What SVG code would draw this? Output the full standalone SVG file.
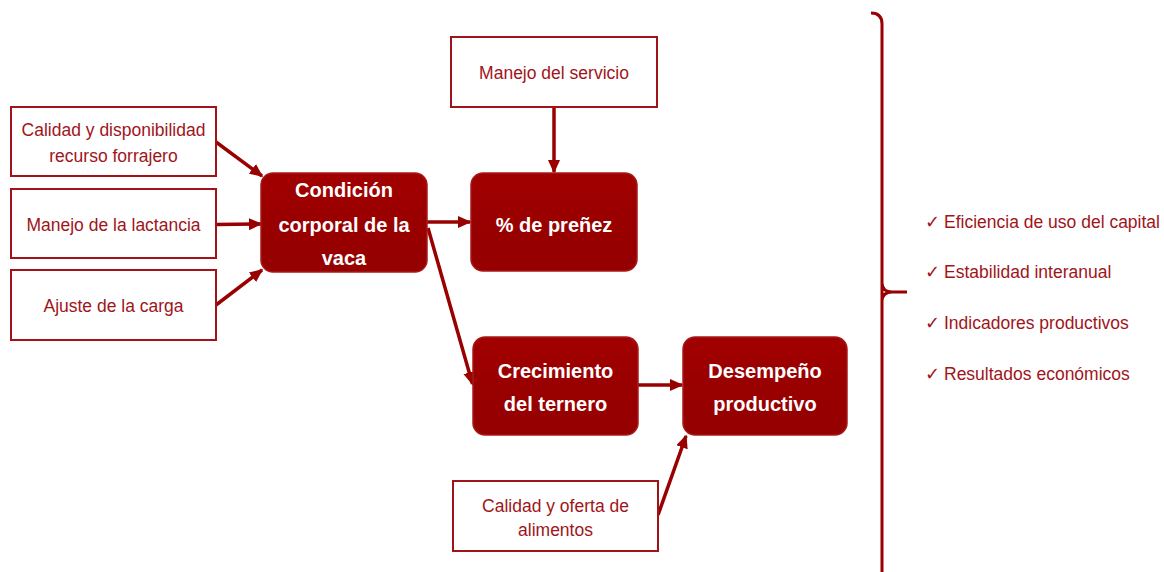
<svg xmlns="http://www.w3.org/2000/svg" width="1164" height="572" viewBox="0 0 1164 572">
<style>
.box{fill:#ffffff;stroke:#a01419;stroke-width:2}
.rbox{stroke:#a81a1a;stroke-width:1.5}
.t{font-family:"Liberation Sans",Arial,sans-serif;font-size:17.5px;fill:#a0141a;text-anchor:middle}
.b{font-family:"Liberation Sans",Arial,sans-serif;font-size:20px;font-weight:bold;fill:#ffffff;text-anchor:middle}
.l{font-family:"Liberation Sans",Arial,sans-serif;font-size:17.5px;fill:#a0141a}
.ck{font-family:"DejaVu Sans",sans-serif;font-size:18px;fill:#a0141a}
.c{stroke:#990000;stroke-width:3.5;fill:none;marker-end:url(#ah)}
</style>
<defs>
<marker id="ah" markerWidth="15" markerHeight="13" refX="12" refY="6.5" orient="auto" markerUnits="userSpaceOnUse">
<path d="M0,0.5 L13.5,6.5 L0,12.5 Z" fill="#990000"/>
</marker>
<linearGradient id="gl" x1="0" y1="0" x2="0" y2="1">
<stop offset="0" stop-color="#a20000"/>
<stop offset="0.5" stop-color="#990000"/>
<stop offset="1" stop-color="#960000"/>
</linearGradient>
</defs>
<rect width="1164" height="572" fill="#ffffff"/>

<g id="connectors">
<line class="c" x1="216" y1="142" x2="262" y2="176"/>
<line class="c" x1="216" y1="224.5" x2="261" y2="224"/>
<line class="c" x1="216" y1="305" x2="262" y2="270"/>
<line class="c" x1="427" y1="222" x2="470" y2="222"/>
<line class="c" x1="554" y1="107" x2="554" y2="172"/>
<line class="c" x1="428" y1="228" x2="472.5" y2="384"/>
<line class="c" x1="638" y1="385" x2="682" y2="385"/>
<line class="c" x1="658" y1="515" x2="686" y2="436"/>
</g>

<g id="n-calidad-forrajero">
<rect class="box" x="11" y="107" width="205" height="69"/>
<text class="t" x="113.5" y="136">Calidad y disponibilidad</text>
<text class="t" x="113.5" y="162">recurso forrajero</text>
</g>
<g id="n-lactancia">
<rect class="box" x="11" y="189" width="205" height="69"/>
<text class="t" x="113.5" y="230.5">Manejo de la lactancia</text>
</g>
<g id="n-carga">
<rect class="box" x="11" y="270" width="205" height="70"/>
<text class="t" x="113.5" y="312">Ajuste de la carga</text>
</g>
<g id="n-servicio">
<rect class="box" x="451" y="37" width="206" height="70"/>
<text class="t" x="554" y="79">Manejo del servicio</text>
</g>
<g id="n-oferta">
<rect class="box" x="453" y="481" width="205" height="70"/>
<text class="t" x="555.5" y="512">Calidad y oferta de</text>
<text class="t" x="555.5" y="536">alimentos</text>
</g>

<g id="n-condicion">
<rect class="rbox" x="261" y="173" width="166" height="99" rx="12" fill="url(#gl)"/>
<text class="b" x="344" y="197">Condición</text>
<text class="b" x="344" y="232">corporal de la</text>
<text class="b" x="344" y="265">vaca</text>
</g>
<g id="n-prenez">
<rect class="rbox" x="471" y="173" width="166" height="98" rx="12" fill="url(#gl)"/>
<text class="b" x="554" y="232">% de preñez</text>
</g>
<g id="n-crecimiento">
<rect class="rbox" x="473" y="337" width="165" height="98" rx="12" fill="url(#gl)"/>
<text class="b" x="555.5" y="378">Crecimiento</text>
<text class="b" x="555.5" y="411">del ternero</text>
</g>
<g id="n-desempeno">
<rect class="rbox" x="683" y="337" width="164" height="98" rx="12" fill="url(#gl)"/>
<text class="b" x="765" y="378">Desempeño</text>
<text class="b" x="765" y="411">productivo</text>
</g>

<g id="bracket">
<path d="M871,13 Q882,13 882,24 L882,572 M882,283 Q882.5,292 892,292 L907,292 M892,292 Q882.5,292 882,301" fill="none" stroke="#990000" stroke-width="3"/>
</g>

<g id="outcomes">
<text class="ck" x="925" y="228">✓</text>
<text class="l" x="944" y="228">Eficiencia de uso del capital</text>
<text class="ck" x="925" y="278">✓</text>
<text class="l" x="944" y="278">Estabilidad interanual</text>
<text class="ck" x="925" y="329">✓</text>
<text class="l" x="944" y="329">Indicadores productivos</text>
<text class="ck" x="925" y="380">✓</text>
<text class="l" x="944" y="380">Resultados económicos</text>
</g>
</svg>
